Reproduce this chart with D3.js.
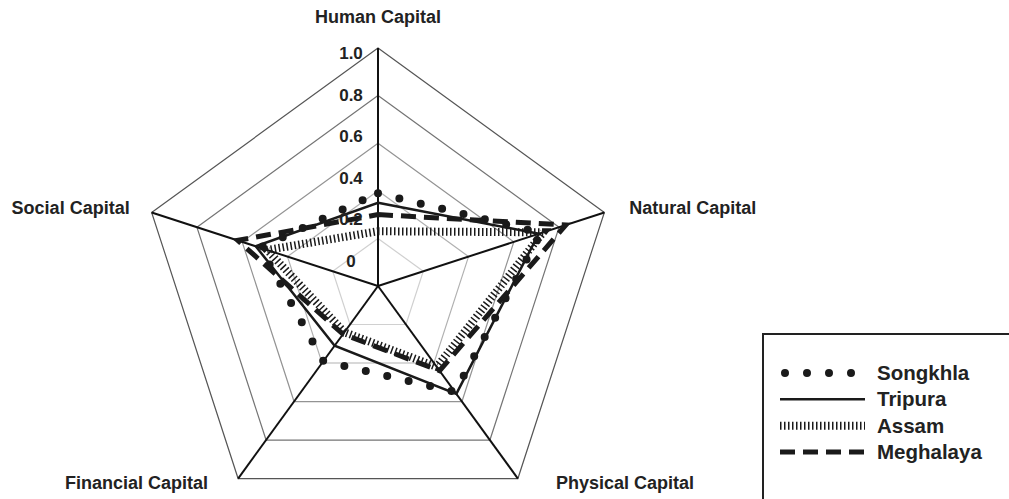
<!DOCTYPE html>
<html>
<head>
<meta charset="utf-8">
<script src="https://cdn.jsdelivr.net/npm/d3@7"></script>
<style>
    body { margin: 0; background: #fff; }
    text { font-family: "Liberation Sans", Arial, sans-serif; font-weight: bold; fill: #222; }
</style>
</head>
<body>
<script>
"use strict";

// axes, clockwise from the top
var axes = ["Human Capital", "Natural Capital", "Physical Capital", "Financial Capital", "Social Capital"];
var ticks = [0, 0.2, 0.4, 0.6, 0.8, 1.0];
var tickLabels = ["0", "0.2", "0.4", "0.6", "0.8", "1.0"];

// values, same order as axes
var songkhla = [0.39, 0.72, 0.55, 0.39, 0.52];
var tripura = [0.35, 0.71, 0.56, 0.31, 0.54];
var assam = [0.23, 0.73, 0.42, 0.24, 0.49];
var meghalaya = [0.30, 0.83, 0.44, 0.25, 0.62];

var seriesNames = ["Songkhla", "Tripura", "Assam", "Meghalaya"];

var width = 1009,
    height = 499,
    cx = 378,
    cy = 286,
    radius = 238;

var styles = {
    Songkhla: { width: 8, dash: "0,22", cap: "round" },
    Tripura: { width: 2.5, dash: null, cap: "butt" },
    Assam: { width: 8, dash: "1.5,2.5", cap: "butt" },
    Meghalaya: { width: 5, dash: "15,8", cap: "butt" }
};

var data = [songkhla, tripura, assam, meghalaya].map(function (v, i) {
    return { name: seriesNames[i], values: v };
});

var svg = d3.select("body").append("svg")
    .attr("width", width)
    .attr("height", height);

var g = svg.append("g")
    .attr("transform", "translate(" + cx + "," + cy + ")");

var r = d3.scaleLinear().domain([0, 1]).range([0, radius]);
var angle = d3.scalePoint().domain(axes).range([0, 2 * Math.PI * 4 / 5]);

// tick labels sit a bit off the rings in the original
var labelY = d3.scaleLinear().domain([0, 1]).range([-19, -227]);

var radial = d3.lineRadial()
    .angle(function (d, i) { return angle(axes[i]); })
    .radius(function (d) { return r(d); })
    .curve(d3.curveLinearClosed);

function point(a, v) {
    var t = angle(a);
    return [Math.sin(t) * r(v), -Math.cos(t) * r(v)];
}

// grid rings
var ringColour = d3.scaleLinear().domain([0.2, 1]).range(["#d0d0d0", "#555"]);
g.append("g").attr("class", "rings")
    .selectAll("path")
    .data(ticks.filter(function (t) { return t > 0; }))
    .enter().append("path")
    .attr("d", function (t) { return radial(axes.map(function () { return t; })); })
    .attr("fill", "none")
    .attr("stroke", function (t) { return ringColour(t); })
    .attr("stroke-width", 1.2);

// spokes
g.append("g").attr("class", "spokes")
    .selectAll("line")
    .data(axes)
    .enter().append("line")
    .attr("x1", 0).attr("y1", 0)
    .attr("x2", function (a) { return point(a, 1)[0]; })
    .attr("y2", function (a) { return point(a, 1)[1]; })
    .attr("stroke", "#111")
    .attr("stroke-width", 2);

// series
g.append("g").attr("class", "series")
    .selectAll("path")
    .data(data)
    .enter().append("path")
    .attr("d", function (d) { return radial(d.values); })
    .attr("fill", "none")
    .attr("stroke", "#1a1a1a")
    .attr("stroke-width", function (d) { return styles[d.name].width; })
    .attr("stroke-dasharray", function (d) { return styles[d.name].dash; })
    .attr("stroke-linecap", function (d) { return styles[d.name].cap; })
    .attr("stroke-linejoin", "miter");

// tick labels
g.append("g").attr("class", "tick-labels")
    .selectAll("text")
    .data(ticks)
    .enter().append("text")
    .attr("x", -27)
    .attr("y", function (t) { return labelY(t); })
    .attr("text-anchor", "middle")
    .style("font-size", "17px")
    .text(function (t, i) { return tickLabels[i]; });

// axis labels
var labelPos = {
    "Human Capital": { dx: 0, dy: -25, anchor: "middle" },
    "Natural Capital": { dx: 25, dy: 2, anchor: "start" },
    "Physical Capital": { dx: 38, dy: 10, anchor: "start" },
    "Financial Capital": { dx: -30, dy: 10, anchor: "end" },
    "Social Capital": { dx: -22, dy: 2, anchor: "end" }
};

g.append("g").attr("class", "axis-labels")
    .selectAll("text")
    .data(axes)
    .enter().append("text")
    .attr("x", function (a) { return point(a, 1)[0] + labelPos[a].dx; })
    .attr("y", function (a) { return point(a, 1)[1] + labelPos[a].dy; })
    .attr("text-anchor", function (a) { return labelPos[a].anchor; })
    .style("font-size", "18px")
    .text(function (a) { return a; });

// legend box, runs off the right and bottom edge
var legend = svg.append("g")
    .attr("class", "legend")
    .attr("transform", "translate(763,334)");

legend.append("rect")
    .attr("x", 0).attr("y", 0)
    .attr("width", 300).attr("height", 200)
    .attr("fill", "#fff")
    .attr("stroke", "#222")
    .attr("stroke-width", 2);

var rowY = d3.scalePoint().domain(seriesNames).range([39, 118]);

var rows = legend.selectAll(".row")
    .data(data)
    .enter().append("g")
    .attr("class", "row")
    .attr("transform", function (d) { return "translate(0," + rowY(d.name) + ")"; });

rows.append("line")
    .attr("x1", function (d) { return d.name === "Songkhla" ? 22 : 17; })
    .attr("x2", 102)
    .attr("y1", 0).attr("y2", 0)
    .attr("stroke", "#1a1a1a")
    .attr("stroke-width", function (d) { return styles[d.name].width; })
    .attr("stroke-dasharray", function (d) { return styles[d.name].dash; })
    .attr("stroke-linecap", function (d) { return styles[d.name].cap; });

rows.append("text")
    .attr("x", 114)
    .attr("y", 7)
    .style("font-size", "20.5px")
    .text(function (d) { return d.name; });
</script>
</body>
</html>
